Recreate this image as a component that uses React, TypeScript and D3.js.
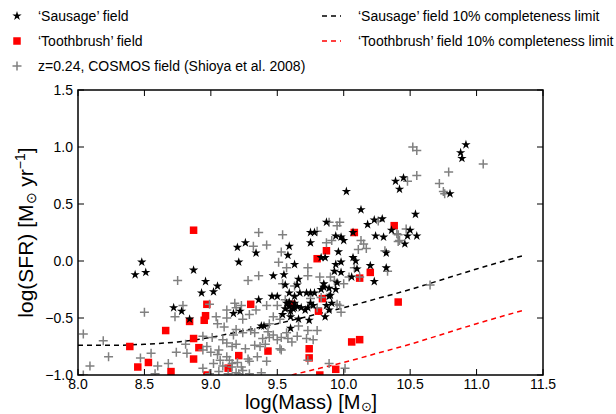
import React from "react";
import * as d3 from "d3";

const sausage: [number, number][] = [
  [8.43,-0.12],[8.48,-0.01],[8.51,-0.10],[8.87,-0.08],[8.96,-0.18],[8.93,-0.28],[9.02,-0.27],[9.05,-0.22],
  [8.72,-0.41],[8.78,-0.44],[8.84,-0.51],[9.20,0.12],[9.26,0.16],[9.34,0.07],[9.21,-0.01],[9.36,-0.34],
  [9.22,-0.44],[9.17,-0.46],[9.38,-0.57],[9.40,-0.57],[9.47,-0.13],[9.55,-0.12],[9.46,-0.31],[9.50,-0.31],
  [9.59,-0.28],[9.63,-0.31],[9.59,-0.40],[9.60,-0.44],[9.65,-0.40],[9.54,-0.47],[9.60,-0.49],[9.60,-0.59],
  [9.65,-0.21],[9.56,-0.21],[9.59,0.13],[9.58,0.05],[9.63,-0.03],[9.66,-0.16],[9.75,0.25],[9.78,0.25],
  [9.94,0.22],[9.87,0.34],[9.75,0.16],[9.96,0.08],[9.94,-0.03],[9.93,-0.09],[9.98,-0.10],[10.07,0.03],
  [10.09,0.00],[10.20,-0.04],[10.23,-0.18],[10.18,0.32],[10.24,0.22],[10.30,0.21],[10.32,0.07],[10.32,-0.06],
  [10.07,0.25],[9.85,-0.20],[9.85,-0.23],[9.95,-0.19],[9.94,-0.25],[9.90,-0.30],[9.91,-0.37],[9.87,-0.39],
  [9.89,-0.43],[9.86,-0.49],[9.75,-0.28],[9.78,-0.28],[9.72,-0.28],[9.67,-0.28],[9.59,-0.36],[9.63,-0.41],
  [9.68,-0.41],[9.73,-0.41],[9.75,-0.37],[9.71,-0.43],[9.66,-0.51],[9.74,-0.52],[9.83,-0.25],[9.89,-0.24],
  [9.89,-0.31],[9.77,-0.39],[9.62,-0.42],[9.56,-0.42],[9.57,-0.37],[9.63,-0.37],[10.02,0.61],[10.13,0.45],
  [9.98,0.21],[10.00,0.18],[10.23,0.36],[10.29,0.37],[10.36,0.27],[10.39,0.70],[10.45,0.73],[10.42,0.63],
  [9.83,0.03],[9.86,0.03],[9.98,-0.01],[10.10,-0.07],[10.06,-0.14],[10.50,0.27],[10.48,0.22],[10.55,0.22],
  [10.54,0.41],[10.92,1.02],[10.88,0.95],[10.89,0.90],[10.80,0.59],[10.46,0.15]
];

const toothbrush: [number, number][] = [
  [8.87,0.27],[8.39,-0.75],[8.45,-0.93],[8.53,-0.89],[8.66,-0.61],[8.70,-0.97],[8.84,-0.53],[8.87,-0.68],
  [8.91,-0.76],[8.87,-0.86],[8.95,-0.52],[8.96,-0.48],[8.97,-0.38],[8.97,-1.00],[9.21,-0.83],[9.13,-0.94],
  [9.30,-0.38],[9.43,-0.79],[9.61,-0.38],[9.80,0.02],[9.87,0.09],[9.84,-0.33],[9.81,-0.44],[10.08,0.25],
  [10.20,-0.10],[10.12,-0.15],[9.74,-0.77],[9.74,-0.85],[9.94,-0.95],[9.82,-1.00],[10.06,-0.71],[10.12,-0.69],
  [10.38,0.31],[10.41,-0.36]
];

const cosmos: [number, number][] = [
  [9.36,0.25],[9.42,0.14],[8.75,-0.17],[9.36,-0.13],[9.28,-0.17],[8.50,-0.45],[8.99,-0.38],[9.18,-0.37],
  [9.23,-0.39],[9.12,-0.43],[9.19,-0.41],[9.34,-0.43],[9.24,-0.51],[8.79,-0.39],[8.73,-0.49],[9.04,-0.49],
  [9.10,-0.58],[9.05,-0.55],[8.04,-0.64],[8.19,-0.70],[8.23,-0.84],[8.09,-0.92],[8.04,-1.00],[8.47,-0.85],
  [8.55,-0.81],[8.60,-0.92],[8.58,-0.99],[8.68,-0.90],[8.74,-0.80],[8.81,-0.73],[8.82,-0.81],[8.94,-0.66],
  [9.01,-0.67],[8.97,-0.75],[9.00,-0.80],[9.06,-0.78],[9.12,-0.72],[9.17,-0.65],[9.24,-0.63],[9.19,-0.73],
  [9.26,-0.77],[9.33,-0.74],[9.41,-0.73],[9.39,-0.68],[9.44,-0.67],[9.05,-0.82],[9.07,-0.87],[9.12,-0.84],
  [9.02,-0.90],[9.09,-0.92],[9.16,-0.90],[9.23,-0.93],[9.29,-0.88],[9.35,-0.84],[9.42,-0.88],[8.94,-0.94],
  [9.06,-0.97],[9.13,-0.99],[9.29,-0.99],[9.19,-0.98],[9.38,-0.98],[9.63,-0.22],[9.29,-0.47],[9.12,-0.50],
  [9.30,-0.61],[9.19,-0.60],[9.09,-0.69],[9.33,-0.63],[9.50,-0.69],[9.37,-0.75],[9.52,-0.77],[9.61,-0.71],
  [9.57,-0.63],[8.94,-0.78],[9.16,-0.75],[9.14,-0.87],[9.20,-0.89],[9.24,-0.96],[8.99,-0.99],[9.54,0.23],
  [9.32,0.13],[9.53,0.08],[9.51,-0.01],[9.57,-0.06],[9.73,-0.06],[9.73,-0.13],[9.50,-0.39],[9.56,-0.34],
  [9.47,-0.49],[9.52,-0.51],[9.44,-0.55],[9.43,-0.62],[9.47,-0.65],[9.53,-0.67],[9.58,-0.68],[9.72,-0.68],
  [9.66,-0.57],[9.80,-0.61],[9.73,-0.87],[9.89,-0.90],[10.01,-0.94],[9.28,-0.86],[9.16,-0.93],[9.21,-0.99],
  [10.13,0.18],[10.15,0.15],[9.97,0.34],[9.95,0.31],[9.89,0.34],[10.08,-0.06],[10.04,-0.14],[9.93,-0.17],
  [9.95,-0.38],[9.83,-0.32],[9.80,-0.41],[9.75,-0.33],[9.42,-0.39],[9.54,-0.20],[9.82,-0.14],[9.90,-0.14],
  [10.00,-0.20],[9.98,-0.45],[9.97,-0.39],[9.73,-0.61],[9.77,-0.69],[9.53,-0.78],[9.65,-0.66],[9.80,0.26],
  [9.87,0.16],[9.91,0.18],[10.11,0.10],[10.17,0.11],[10.41,0.17],[10.40,0.24],[10.12,-0.14],[10.52,1.00],
  [10.55,0.97],[10.55,0.75],[10.48,0.70],[10.79,0.78],[10.72,0.68],[10.75,0.61],[10.76,0.59],[11.05,0.85],
  [10.47,0.28],[10.41,0.23],[10.42,0.18],[10.31,0.09],[10.33,-0.09],[10.65,-0.21],[10.26,0.35]
];

const limitMass = [8.0, 8.25, 8.5, 8.75, 9.0, 9.25, 9.5, 9.75, 10.0, 10.25, 10.5, 10.75, 11.0, 11.36];
const sausageLimit = [-0.74, -0.74, -0.73, -0.71, -0.67, -0.61, -0.55, -0.48, -0.41, -0.33, -0.25, -0.16, -0.07, 0.05];
const toothbrushLimit = [-1.22, -1.22, -1.21, -1.19, -1.15, -1.09, -1.03, -0.96, -0.89, -0.81, -0.73, -0.64, -0.55, -0.43];

const xTicks = [8.0, 8.5, 9.0, 9.5, 10.0, 10.5, 11.0, 11.5];
const yTicks = [-1.0, -0.5, 0.0, 0.5, 1.0, 1.5];

const legendLeft = ["\u2018Sausage\u2019 field", "\u2018Toothbrush\u2019 field", "z=0.24, COSMOS field (Shioya et al. 2008)"];
const legendRight = ["\u2018Sausage\u2019 field 10% completeness limit", "\u2018Toothbrush\u2019 field 10% completeness limit"];

const W = 616, H = 414;
const L = 78, R = 543, T = 90, B = 375;
const FONT = "'Liberation Sans', Arial, Helvetica, sans-serif";

export default function App() {
  const x = d3.scaleLinear().domain([8.0, 11.5]).range([L, R]);
  const y = d3.scaleLinear().domain([-1.0, 1.5]).range([B, T]);
  const star = d3.symbol().type(d3.symbolStar).size(27)() as string;
  const sq = 7.5;
  const pl = 4.5;
  const fmt = (v: number) => (v < 0 ? "\u2212" : "") + Math.abs(v).toFixed(1);

  const line = d3.line<number>().x((_, i) => x(limitMass[i])).y((d) => y(d)).curve(d3.curveMonotoneX);

  const plus = (cx: number, cy: number, k: string) => (
    <path key={k} d={`M${cx - pl},${cy}H${cx + pl}M${cx},${cy - pl}V${cy + pl}`} stroke="#808080" strokeWidth={1.5} fill="none" />
  );

  const tickLen = 6;

  return (
    <svg width={W} height={H} style={{ position: "absolute", left: 0, top: 0, background: "#fff" }} fontFamily={FONT}>
      <defs>
        <clipPath id="plotclip">
          <rect x={L} y={T} width={R - L} height={B - T} />
        </clipPath>
      </defs>

      {/* legend */}
      <g fontSize={14} fill="#000">
        <path d={star} transform="translate(17,16)" fill="#000" />
        <text x={38} y={21}>{legendLeft[0]}</text>
        <rect x={17 - sq / 2} y={41 - sq / 2} width={sq} height={sq} fill="#ff0000" />
        <text x={38} y={46}>{legendLeft[1]}</text>
        {plus(17, 66, "lg")}
        <text x={38} y={71}>{legendLeft[2]}</text>

        <line x1={322} x2={341} y1={16} y2={16} stroke="#000" strokeWidth={1.5} strokeDasharray="5,4" />
        <text x={358} y={21}>{legendRight[0]}</text>
        <line x1={322} x2={341} y1={41} y2={41} stroke="#ff0000" strokeWidth={1.5} strokeDasharray="5,4" />
        <text x={358} y={46}>{legendRight[1]}</text>
      </g>

      <g clipPath="url(#plotclip)">
        <path d={line(sausageLimit) as string} fill="none" stroke="#000" strokeWidth={1.5} strokeDasharray="5,4" />
        <path d={line(toothbrushLimit) as string} fill="none" stroke="#ff0000" strokeWidth={1.5} strokeDasharray="5,4" />
        {toothbrush.map((d, i) => (
          <rect key={"t" + i} x={x(d[0]) - sq / 2} y={y(d[1]) - sq / 2} width={sq} height={sq} fill="#ff0000" />
        ))}
        {cosmos.map((d, i) => plus(x(d[0]), y(d[1]), "c" + i))}
        {sausage.map((d, i) => (
          <path key={"s" + i} d={star} transform={`translate(${x(d[0])},${y(d[1])})`} fill="#000" />
        ))}
      </g>

      {/* frame */}
      <rect x={L} y={T} width={R - L} height={B - T} fill="none" stroke="#000" strokeWidth={1.5} />

      {/* ticks */}
      {xTicks.map((t) => (
        <g key={"xt" + t}>
          <line x1={x(t)} x2={x(t)} y1={B} y2={B - tickLen} stroke="#000" strokeWidth={1} />
          <line x1={x(t)} x2={x(t)} y1={T} y2={T + tickLen} stroke="#000" strokeWidth={1} />
          <text x={x(t)} y={389} textAnchor="middle" fontSize={14}>{fmt(t)}</text>
        </g>
      ))}
      {yTicks.map((t) => (
        <g key={"yt" + t}>
          <line x1={L} x2={L + tickLen} y1={y(t)} y2={y(t)} stroke="#000" strokeWidth={1} />
          <line x1={R} x2={R - tickLen} y1={y(t)} y2={y(t)} stroke="#000" strokeWidth={1} />
          <text x={73} y={y(t) + 5} textAnchor="end" fontSize={14}>{fmt(t)}</text>
        </g>
      ))}

      {/* axis labels */}
      <text x={311} y={409} textAnchor="middle" fontSize={20}>
        log(Mass) [M<tspan fontSize={13} dy={2}>{"\u2299"}</tspan><tspan dy={-2}>]</tspan>
      </text>
      <text transform={`translate(33,${(T + B) / 2}) rotate(-90)`} textAnchor="middle" fontSize={21}>
        log(SFR) [M<tspan fontSize={14} dy={3}>{"\u2299"}</tspan><tspan dy={-3}> yr</tspan>
        <tspan fontSize={14} dy={-8}>{"\u22121"}</tspan><tspan dy={8}>]</tspan>
      </text>
    </svg>
  );
}
